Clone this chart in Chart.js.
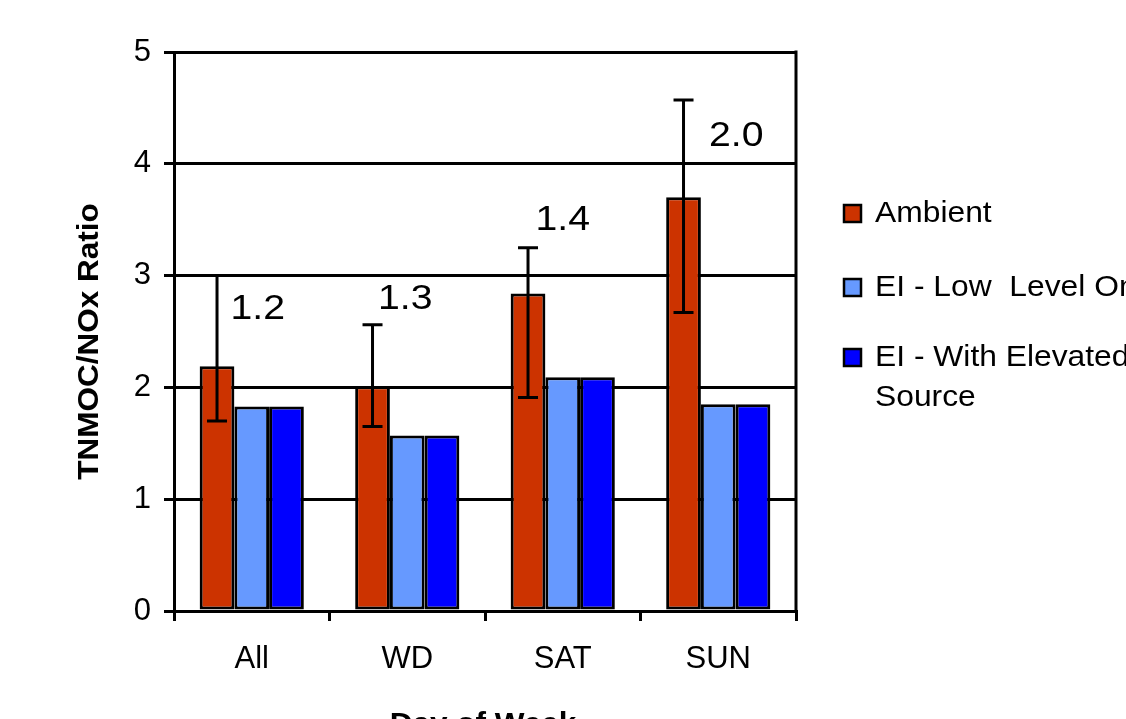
<!DOCTYPE html>
<html lang="en">
<head>
    <meta charset="UTF-8">
    <title>TNMOC/NOx Ratio by Day of Week</title>
    <script src="https://cdn.jsdelivr.net/npm/chart.js"></script>
    <style>
        body {
            margin: 0;
            background-color: #fff;
            overflow: hidden;
        }
        #wrap {
            width: 1126px;
            height: 719px;
        }
    </style>
</head>
<body>
    <div id="wrap"><canvas id="ratioChart" width="1126" height="719"></canvas></div>

    <script>
        // Data
        const days = ['All', 'WD', 'SAT', 'SUN'];
        const ambient = [2.19, 2.01, 2.84, 3.70];
        const ambientHigh = [3.00, 2.56, 3.25, 4.57];
        const ambientLow = [1.70, 1.65, 1.91, 2.67];
        const eiLowLevel = [1.83, 1.57, 2.09, 1.85];
        const eiElevated = [1.83, 1.57, 2.09, 1.85];
        const ratioLabels = ['1.2', '1.3', '1.4', '2.0'];
        const ratioLabelY = [2.70, 2.79, 3.49, 4.25];
        const yTicks = [0, 1, 2, 3, 4, 5];

        const seriesNames = ['Ambient', 'EI - Low  Level Only', 'EI - With Elevated', 'Source'];
        const colors = ['#CC3300', '#6699FF', '#0000FF'];
        const FONT = '"Liberation Sans", Arial, sans-serif';

        // label x offsets from category centre (px)
        const labelDx = [6, -2, 0, 18];

        // text drawn a little wider, like the original
        function wideText(ctx, text, x, y, sx) {
            ctx.save();
            ctx.translate(x, y);
            ctx.scale(sx, 1);
            ctx.fillText(text, 0, 0);
            ctx.restore();
        }

        // error bars, ratio labels, right border, legend and axis titles
        const extras = {
            id: 'extras',
            afterDatasetsDraw(chart) {
                const ctx = chart.ctx;
                const x = chart.scales.x;
                const y = chart.scales.y;
                const area = chart.chartArea;
                const meta = chart.getDatasetMeta(0);

                ctx.save();
                ctx.strokeStyle = '#000';
                ctx.lineWidth = 3;

                // right frame line
                ctx.beginPath();
                ctx.moveTo(area.right, area.top - 1.5);
                ctx.lineTo(area.right, area.bottom);
                ctx.stroke();

                // error bars on Ambient
                meta.data.forEach((bar, i) => {
                    const yh = y.getPixelForValue(ambientHigh[i]);
                    const yl = y.getPixelForValue(ambientLow[i]);
                    ctx.beginPath();
                    ctx.moveTo(bar.x, yh);
                    ctx.lineTo(bar.x, yl);
                    ctx.moveTo(bar.x - 10, yh);
                    ctx.lineTo(bar.x + 10, yh);
                    ctx.moveTo(bar.x - 10, yl);
                    ctx.lineTo(bar.x + 10, yl);
                    ctx.stroke();
                });

                // ratio labels
                ctx.fillStyle = '#000';
                ctx.font = '35px ' + FONT;
                ctx.textAlign = 'center';
                ctx.textBaseline = 'middle';
                ratioLabels.forEach((t, i) => {
                    wideText(ctx, t, x.getPixelForValue(i) + labelDx[i], y.getPixelForValue(ratioLabelY[i]), 1.12);
                });

                // legend
                ctx.font = '30px ' + FONT;
                ctx.textAlign = 'left';
                ctx.lineWidth = 2.5;
                const legendY = [213, 287, 357];
                colors.forEach((c, i) => {
                    ctx.fillStyle = c;
                    ctx.fillRect(844, legendY[i] - 8, 17, 17);
                    ctx.strokeRect(844, legendY[i] - 8, 17, 17);
                    ctx.fillStyle = '#000';
                    wideText(ctx, seriesNames[i], 875, legendY[i] + 1, 1.06);
                });
                wideText(ctx, seriesNames[3], 875, 398, 1.06);

                // axis titles
                ctx.font = 'bold 30px ' + FONT;
                ctx.textAlign = 'center';
                wideText(ctx, 'Day of Week', (area.left + area.right) / 2 - 2, 725, 1.05);
                ctx.translate(90, (area.top + area.bottom) / 2 + 10);
                ctx.rotate(-Math.PI / 2);
                wideText(ctx, 'TNMOC/NOx Ratio', 0, 0, 1.05);
                ctx.restore();
            }
        };

        const barStyle = {
            borderColor: '#000',
            borderWidth: 3,
            borderSkipped: false,
            categoryPercentage: 0.67,
            barPercentage: 1.0
        };

        new Chart(document.getElementById('ratioChart'), {
            type: 'bar',
            data: {
                labels: days,
                datasets: [
                    { label: seriesNames[0], data: ambient, backgroundColor: colors[0], ...barStyle },
                    { label: seriesNames[1], data: eiLowLevel, backgroundColor: colors[1], ...barStyle },
                    { label: seriesNames[2] + ' ' + seriesNames[3], data: eiElevated, backgroundColor: colors[2], ...barStyle }
                ]
            },
            options: {
                responsive: false,
                animation: false,
                layout: {
                    padding: { left: 0, top: 52, right: 330, bottom: 0 }
                },
                plugins: {
                    legend: { display: false },
                    tooltip: { enabled: false }
                },
                scales: {
                    x: {
                        afterFit(scale) { scale.height = 108; },
                        grid: {
                            offset: true,
                            drawOnChartArea: false,
                            drawTicks: true,
                            tickLength: 10,
                            color: '#000',
                            lineWidth: 3
                        },
                        border: { color: '#000', width: 3 },
                        ticks: {
                            color: '#000',
                            font: { family: FONT, size: 31 },
                            padding: 20
                        }
                    },
                    y: {
                        min: 0,
                        max: 5,
                        afterFit(scale) { scale.width = 174; },
                        afterBuildTicks(scale) { scale.ticks = yTicks.map(v => ({ value: v })); },
                        grid: {
                            color: '#000',
                            lineWidth: 3,
                            tickLength: 10
                        },
                        border: { color: '#000', width: 3 },
                        ticks: {
                            color: '#000',
                            font: { family: FONT, size: 31 },
                            padding: 13
                        }
                    }
                }
            },
            plugins: [extras]
        });
    </script>
</body>
</html>
